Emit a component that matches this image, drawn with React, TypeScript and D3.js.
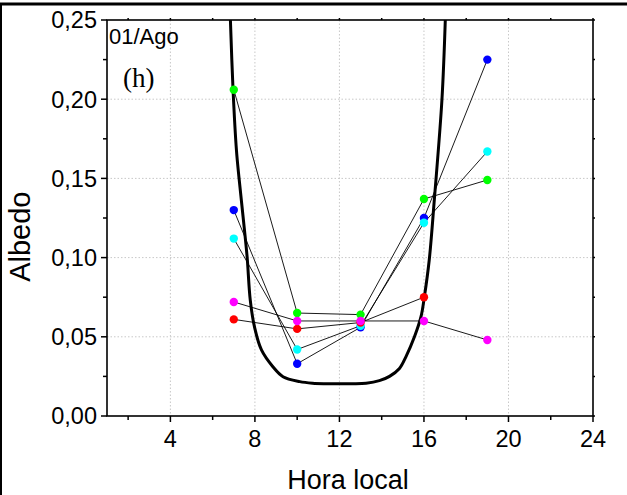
import React from "react";
import * as d3 from "d3";

// horas das medidas
const hours = [7, 10, 13, 16, 19];

// albedo medido por serie (cor do marcador)
const seriesNames = ["green", "blue", "cyan", "red", "magenta"];
const seriesColors = ["#00ff00", "#0000ff", "#00ffff", "#ff0000", "#ff00ff"];
const greenVals = [0.206, 0.065, 0.064, 0.137, 0.149];
const blueVals = [0.13, 0.033, 0.056, 0.125, 0.225];
const cyanVals = [0.112, 0.042, 0.057, 0.122, 0.167];
const redVals = [0.061, 0.055, 0.059, 0.075];
const magentaVals = [0.072, 0.06, 0.06, 0.06, 0.048];

// curva teorica
const curveHours = [6.84, 6.965, 7.125, 7.25, 7.44, 7.63, 7.78, 7.99, 8.31, 8.85, 9.33, 10.12, 10.73, 11.4, 12.0, 12.6, 13.26, 13.89, 14.37, 14.84, 15.15, 15.55, 15.86, 16.02, 16.25, 16.49, 16.85, 17.01];
const curveVals = [0.25, 0.206, 0.168, 0.15, 0.1258, 0.1006, 0.0732, 0.0556, 0.0417, 0.0311, 0.0248, 0.0217, 0.0207, 0.0204, 0.0203, 0.0204, 0.0207, 0.0223, 0.025, 0.03, 0.0375, 0.05, 0.0627, 0.0753, 0.0985, 0.1364, 0.1995, 0.25];

const xTicks = [4, 8, 12, 16, 20, 24];
const xMinor = [2, 6, 10, 14, 18, 22];
const yTicks = [0, 0.05, 0.1, 0.15, 0.2, 0.25];
const yMinor = [0.025, 0.075, 0.125, 0.175, 0.225];

const W = 627;
const H = 495;
const m = { left: 107, top: 20, right: 593, bottom: 416 };

export default function App() {
  const x = d3.scaleLinear().domain([1, 24]).range([m.left, m.right]);
  const y = d3.scaleLinear().domain([0, 0.25]).range([m.bottom, m.top]);
  const fmt = (v: number) => d3.format(".2f")(v).replace(".", ",");

  const allVals = [greenVals, blueVals, cyanVals, redVals, magentaVals];
  const series = seriesNames.map((n, i) => ({
    name: n,
    color: seriesColors[i],
    pts: allVals[i].map((v, j) => [hours[j], v] as [number, number]),
  }));

  const line = d3
    .line<[number, number]>()
    .x((d) => x(d[0]))
    .y((d) => y(d[1]));
  const curvePts = curveHours.map((h, i) => [h, curveVals[i]] as [number, number]);
  const curveLine = d3
    .line<[number, number]>()
    .x((d) => x(d[0]))
    .y((d) => y(d[1]))
    .curve(d3.curveCatmullRom.alpha(0.5));

  const font = "'Liberation Sans', Arial, sans-serif";

  return (
    <svg
      width={W}
      height={H}
      style={{ position: "absolute", left: 0, top: 0, background: "#fff" }}
    >
      <rect x={0} y={0} width={W} height={H} fill="#fff" />
      {/* moldura externa */}
      <line x1={0} y1={4} x2={W} y2={4} stroke="#000" strokeWidth={3} />
      <line x1={1} y1={4} x2={1} y2={H} stroke="#000" strokeWidth={2} />

      <defs>
        <clipPath id="plot">
          <rect x={m.left} y={m.top} width={m.right - m.left} height={m.bottom - m.top} />
        </clipPath>
      </defs>

      {/* grade */}
      {xTicks.slice(0, -1).map((t) => (
        <line key={"gx" + t} x1={x(t)} x2={x(t)} y1={m.top} y2={m.bottom} stroke="#c8c8c8" strokeWidth={1} strokeDasharray="1.5,2" />
      ))}
      {yTicks.slice(1, -1).map((t) => (
        <line key={"gy" + t} x1={m.left} x2={m.right} y1={y(t)} y2={y(t)} stroke="#c8c8c8" strokeWidth={1} strokeDasharray="1.5,2" />
      ))}

      {/* curva teorica */}
      <path d={curveLine(curvePts) || ""} fill="none" stroke="#000" strokeWidth={3} clipPath="url(#plot)" />

      {/* linhas das series */}
      {series.map((s) => (
        <path key={"l" + s.name} d={line(s.pts) || ""} fill="none" stroke="#000" strokeWidth={0.9} />
      ))}
      {series.map((s) =>
        s.pts.map((p, j) => (
          <circle key={s.name + j} cx={x(p[0])} cy={y(p[1])} r={4.2} fill={s.color} />
        ))
      )}

      {/* eixos */}
      <rect x={m.left} y={m.top} width={m.right - m.left} height={m.bottom - m.top} fill="none" stroke="#000" strokeWidth={1.6} />
      {xTicks.map((t) => (
        <g key={"xt" + t}>
          <line x1={x(t)} x2={x(t)} y1={m.bottom} y2={m.bottom + 6} stroke="#000" strokeWidth={1.5} />
          <line x1={x(t)} x2={x(t)} y1={m.top} y2={m.top - 2} stroke="#000" strokeWidth={1.5} />
          <text x={x(t)} y={447} textAnchor="middle" fontFamily={font} fontSize={23.5}>
            {t}
          </text>
        </g>
      ))}
      {xMinor.map((t) => (
        <g key={"xm" + t}>
          <line x1={x(t)} x2={x(t)} y1={m.bottom} y2={m.bottom + 4} stroke="#000" strokeWidth={1.5} />
          <line x1={x(t)} x2={x(t)} y1={m.top} y2={m.top - 2} stroke="#000" strokeWidth={1.5} />
        </g>
      ))}
      {yTicks.map((t) => (
        <g key={"yt" + t}>
          <line x1={m.left} x2={m.left - 6} y1={y(t)} y2={y(t)} stroke="#000" strokeWidth={1.5} />
          <line x1={m.right} x2={m.right + 2} y1={y(t)} y2={y(t)} stroke="#000" strokeWidth={1.5} />
          <text x={97} y={y(t) + 8.3} textAnchor="end" fontFamily={font} fontSize={23.5}>
            {fmt(t)}
          </text>
        </g>
      ))}
      {yMinor.map((t) => (
        <g key={"ym" + t}>
          <line x1={m.left} x2={m.left - 4} y1={y(t)} y2={y(t)} stroke="#000" strokeWidth={1.5} />
          <line x1={m.right} x2={m.right + 2} y1={y(t)} y2={y(t)} stroke="#000" strokeWidth={1.5} />
        </g>
      ))}

      {/* textos */}
      <text x={348} y={489} textAnchor="middle" fontFamily={font} fontSize={27}>
        Hora local
      </text>
      <text transform="translate(30,236.7) rotate(-90)" textAnchor="middle" fontFamily={font} fontSize={29}>
        Albedo
      </text>
      <text x={109} y={44} fontFamily={font} fontSize={22}>
        01/Ago
      </text>
      <text x={123} y={87} fontFamily="'Liberation Serif', 'Times New Roman', serif" fontSize={27}>
        (h)
      </text>
    </svg>
  );
}
